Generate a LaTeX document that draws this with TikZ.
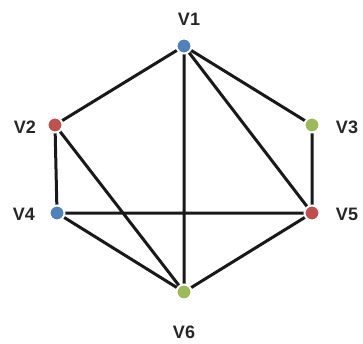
\documentclass[tikz,border=0pt]{standalone}
\usepackage{fontspec}
\setmainfont{Liberation Sans}
\definecolor{vblue}{HTML}{4F81BD}
\definecolor{vred}{HTML}{C0504D}
\definecolor{vgreen}{HTML}{9BBB59}
\begin{document}
\begin{tikzpicture}[x=1pt,y=-1pt,
  vert/.style={circle,inner sep=0pt,minimum size=15pt,draw=white,line width=2pt},
  lbl/.style={font=\bfseries\fontsize{18}{20}\selectfont,text=black!85},
  edge/.style={line width=3pt,black!90}]
\useasboundingbox (0,0) rectangle (363,343);
\coordinate (c1) at (184,46);
\coordinate (c2) at (55,125);
\coordinate (c3) at (312,125);
\coordinate (c4) at (57,213);
\coordinate (c5) at (312,213);
\coordinate (c6) at (184,292);
\draw[edge] (c1)--(c2) (c1)--(c3) (c1)--(c5) (c1)--(c6)
  (c2)--(c4) (c2)--(c6) (c4)--(c5) (c4)--(c6) (c3)--(c5) (c5)--(c6);
\node[vert,fill=vblue] (v1) at (c1) {};
\node[vert,fill=vred] (v2) at (c2) {};
\node[vert,fill=vgreen] (v3) at (c3) {};
\node[vert,fill=vblue] (v4) at (c4) {};
\node[vert,fill=vred] (v5) at (c5) {};
\node[vert,fill=vgreen] (v6) at (c6) {};
\node[lbl] (l1) at (189,19) {V1};
\node[lbl] (l2) at (25,127) {V2};
\node[lbl] (l3) at (347,127) {V3};
\node[lbl] (l4) at (24,214) {V4};
\node[lbl] (l5) at (347,214) {V5};
\node[lbl] (l6) at (184,332) {V6};
\end{tikzpicture}
\end{document}
